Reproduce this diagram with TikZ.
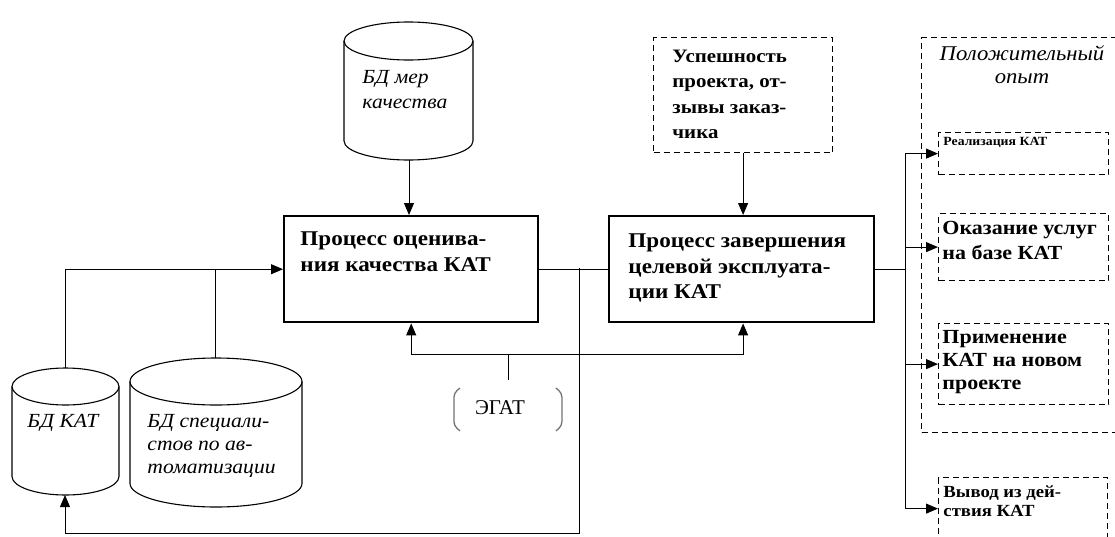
\documentclass[tikz,border=0pt]{standalone}
\usepackage{fontspec}
\setmainfont{Liberation Serif}
\newfontfamily\bfw[FakeStretch=1.1]{Liberation Serif}
\newfontfamily\itw[FakeStretch=1.08]{Liberation Serif}
\usetikzlibrary{arrows.meta,calc}
\tikzset{
  proc/.style={draw, line width=2.4pt, anchor=north west, inner sep=0pt},
  dbox/.style={draw, line width=1.2pt, dash pattern=on 6pt off 4pt, anchor=north west, inner sep=0pt},
  tx/.style={anchor=north west, inner sep=0pt, align=left},
  arr/.style={-{Triangle[length=12pt,width=10pt]}},
  cyl/.style={line width=1.1pt},
  br/.style={draw=black!55, line width=1.3pt, rounded corners=4pt},
}
\begin{document}
\begin{tikzpicture}[x=1pt,y=-1pt,line width=0.9pt]
\useasboundingbox (0,0) rectangle (1115,536);
\clip (0,0) rectangle (1115,536);

% ---- cylinders ----
% A: БД мер качества
\draw[cyl] (344,41) -- (344,141) arc[start angle=180,end angle=360,x radius=64.5pt,y radius=19pt] -- (473,41);
\draw[cyl] (408.5,41) ellipse[x radius=64.5pt,y radius=19pt];
\coordinate (cAbot) at (409,160);
\node[tx, font=\itw\itshape\fontsize{20}{25}\selectfont] (cAt) at (362,65.5) {\strut БД мер\\качества};

% B: БД КАТ
\draw[cyl] (12,386.5) -- (12,476.5) arc[start angle=180,end angle=360,x radius=53.5pt,y radius=18.5pt] -- (119,386.5);
\draw[cyl] (65.5,386.5) ellipse[x radius=53.5pt,y radius=18.5pt];
\coordinate (cBtop) at (65,368);
\coordinate (cBbot) at (65,495);
\node[tx, font=\itw\itshape\fontsize{20}{23}\selectfont] (cBt) at (27,410.9) {\strut БД КАТ};

% C: БД специалистов
\draw[cyl] (130,381.5) -- (130,483.5) arc[start angle=180,end angle=360,x radius=86pt,y radius=23.5pt] -- (302,381.5);
\draw[cyl] (216,381.5) ellipse[x radius=86pt,y radius=23.5pt];
\coordinate (cCtop) at (215,358);
\node[tx, font=\itw\itshape\fontsize{20}{23}\selectfont] (cCt) at (147,410.9) {\strut БД специали-\\стов по ав-\\томатизации};

% ---- process boxes ----
\node[proc, minimum width=254pt, minimum height=106pt] (p1) at (283,215) {};
\node[tx, font=\bfw\bfseries\fontsize{21}{25.5}\selectfont] (p1t) at (300,227.2) {\strut Процесс оценива-\\ния качества КАТ};
\node[proc, minimum width=265pt, minimum height=106pt] (p2) at (608,215) {};
\node[tx, font=\bfw\bfseries\fontsize{21}{25.5}\selectfont] (p2t) at (628,229.2) {\strut Процесс завершения\\целевой эксплуата-\\ции КАТ};

% ---- success box ----
\node[dbox, minimum width=179pt, minimum height=115pt] (usp) at (653,37) {};
\node[tx, font=\bfw\bfseries\fontsize{19}{25.3}\selectfont] (uspt) at (672,44.3) {\strut Успешность\\проекта, от-\\зывы заказ-\\чика};

% ---- positive experience ----
\node[dbox, minimum width=215pt, minimum height=395pt] (pos) at (921,37) {};
\node[anchor=north, inner sep=0pt, align=center, font=\itw\itshape\fontsize{21}{23}\selectfont] (post) at (1022,43.9) {\strut Положительный\\опыт};

\node[dbox, minimum width=170pt, minimum height=42pt] (r1) at (938,132) {};
\node[tx, font=\bfw\bfseries\fontsize{12.5}{15}\selectfont] (r1t) at (943,134.5) {\strut Реализация КАТ};
\node[dbox, minimum width=170pt, minimum height=67pt] (r2) at (938,213) {};
\node[tx, font=\bfw\bfseries\fontsize{20}{25}\selectfont] (r2t) at (942,216.5) {\strut Оказание услуг\\на базе КАТ};
\node[dbox, minimum width=170pt, minimum height=81pt] (r3) at (938,323) {};
\node[tx, font=\bfw\bfseries\fontsize{20}{23}\selectfont] (r3t) at (942,326.9) {\strut Применение\\КАТ на новом\\проекте};
\node[dbox, minimum width=169pt, minimum height=62pt] (r4) at (938,477) {};
\node[tx, font=\bfw\bfseries\fontsize{17}{19}\selectfont] (r4t) at (943,483.7) {\strut Вывод из дей-\\ствия КАТ};

% ---- ЭГАТ ----
\node[minimum width=109pt, minimum height=42pt, anchor=north west, inner sep=0pt] (eg) at (453,388) {};
\node[anchor=base, inner sep=0pt, font=\fontsize{21}{24}\selectfont] (egt) at (500,414) {ЭГАТ};
\draw[br] ($(eg.north west)+(7,0)$) -- ($(eg.north west)+(1,5)$) -- ($(eg.south west)+(1,-5)$) -- ($(eg.south west)+(7,0)$);
\draw[br] ($(eg.north east)+(-7,0)$) -- ($(eg.north east)+(-1,5)$) -- ($(eg.south east)+(-1,-5)$) -- ($(eg.south east)+(-7,0)$);

% ---- connectors ----
\coordinate (j1) at (579,268);
\coordinate (bot) at (0,533);
\coordinate (fb) at (0,354);
\coordinate (rx) at (905,0);

\draw[arr] (cAbot) -- (cAbot |- p1.north);
\draw[arr] (usp.south) -- (usp.south |- p2.north);
\draw (p1.east) -- (p2.west);
\draw[arr] (j1) |- (cBbot |- bot) -- (cBbot);
\draw[arr] (p1.south |- fb) -- (p1.south);
\draw[arr] (p1.south |- fb) -- (usp.south |- fb) -- (usp.south |- p2.south);
\draw[shorten >=8pt] (eg.north |- fb) -- (eg.north);
\draw[arr] (cBtop) |- (p1.west);
\draw (cCtop) -- (cCtop |- p1.west);
\draw (p2.east) -- (p2.east -| rx);
\draw (r1.west -| rx) -- (r4.west -| rx);
\draw[arr] (r1.west -| rx) -- (r1.west);
\draw[arr] (r2.west -| rx) -- (r2.west);
\draw[arr] (r3.west -| rx) -- (r3.west);
\draw[arr] (r4.west -| rx) -- (r4.west);
\end{tikzpicture}
\end{document}
